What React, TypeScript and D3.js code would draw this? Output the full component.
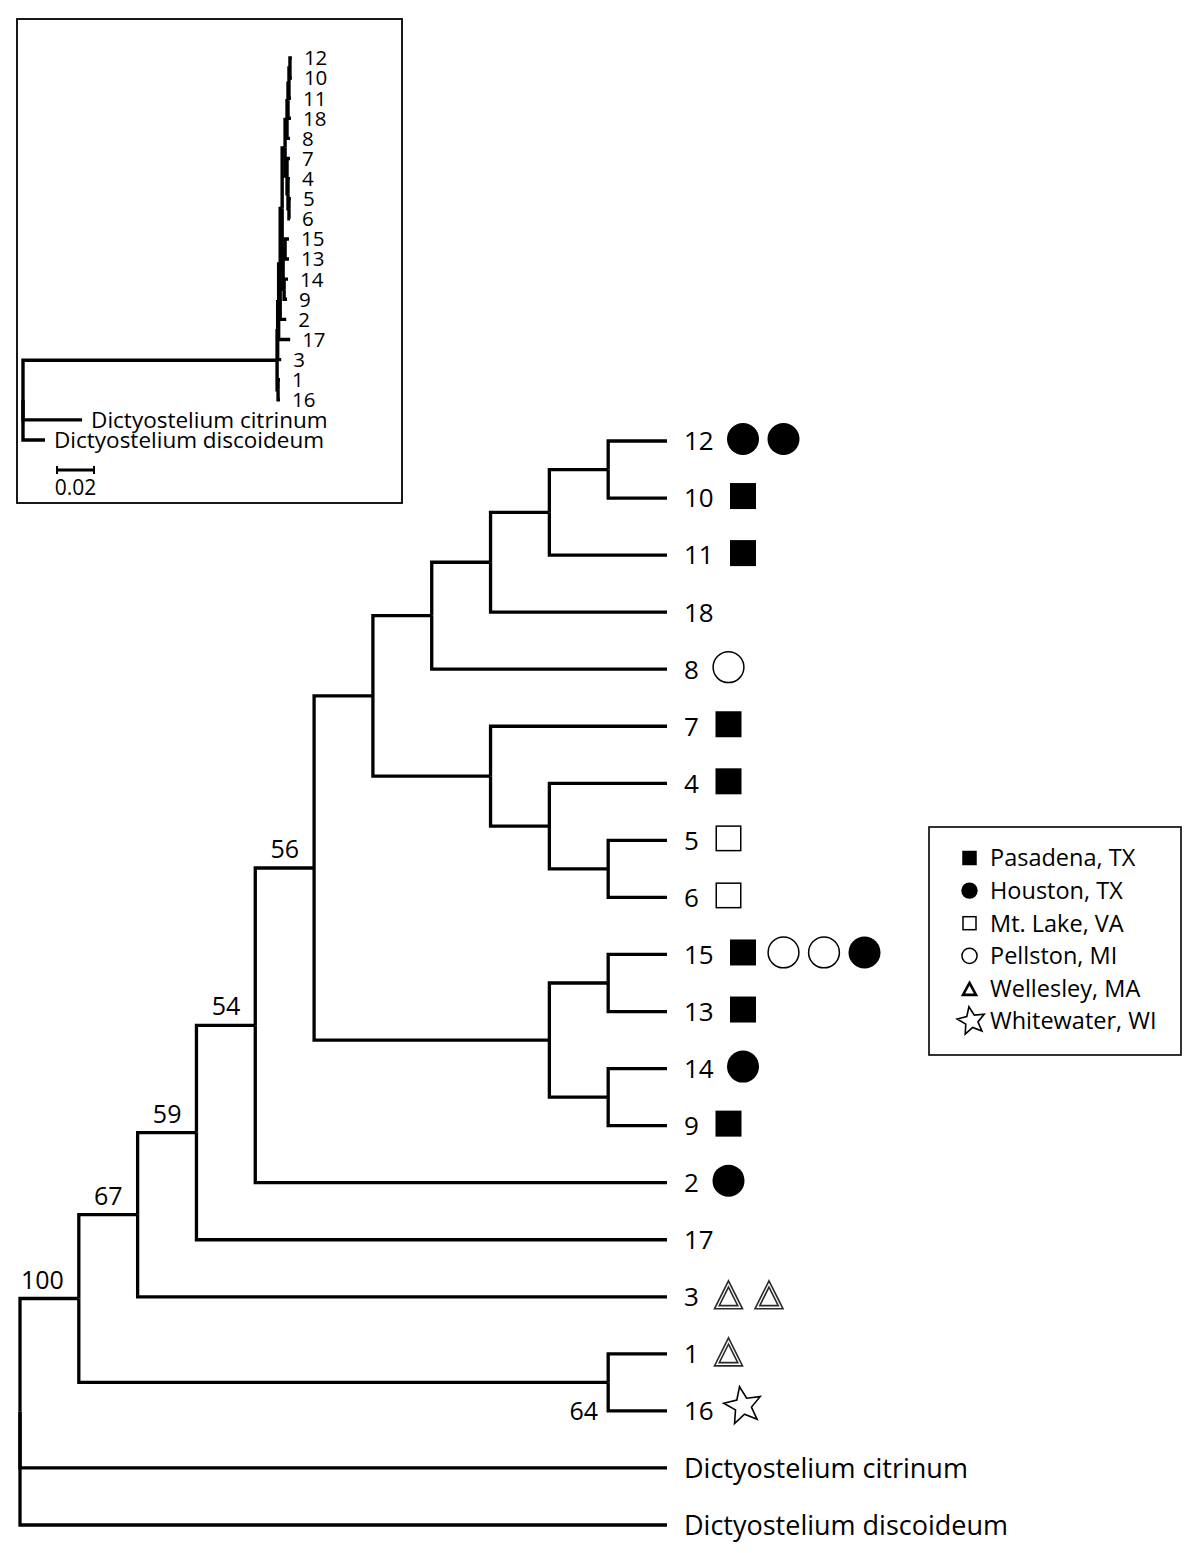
import React from "react";
import * as d3 from "d3";

// ---------- DATA ----------
const leafOrder = [
  "12", "10", "11", "18", "8", "7", "4", "5", "6", "15", "13", "14", "9", "2", "17", "3", "1", "16",
  "Dictyostelium citrinum", "Dictyostelium discoideum",
];

// [child, parent]
const links: [string, string][] = [
  ["root", ""],
  ["Q", "root"], ["Dictyostelium citrinum", "root"], ["Dictyostelium discoideum", "root"],
  ["O", "Q"], ["P", "Q"],
  ["N", "O"], ["3", "O"],
  ["M", "N"], ["17", "N"],
  ["L", "M"], ["2", "M"],
  ["H", "L"], ["K", "L"],
  ["D", "H"], ["G", "H"],
  ["C", "D"], ["8", "D"],
  ["B", "C"], ["18", "C"],
  ["A", "B"], ["11", "B"],
  ["12", "A"], ["10", "A"],
  ["7", "G"], ["F", "G"],
  ["4", "F"], ["E", "F"],
  ["5", "E"], ["6", "E"],
  ["I", "K"], ["J", "K"],
  ["15", "I"], ["13", "I"],
  ["14", "J"], ["9", "J"],
  ["1", "P"], ["16", "P"],
];

// bootstrap support values
const supports: [string, string][] = [
  ["Q", "100"], ["O", "67"], ["N", "59"], ["M", "54"], ["L", "56"], ["P", "64"],
];

// collection sites per isolate
const leafSites: [string, string[]][] = [
  ["12", ["Houston", "Houston"]],
  ["10", ["Pasadena"]],
  ["11", ["Pasadena"]],
  ["18", []],
  ["8", ["Pellston"]],
  ["7", ["Pasadena"]],
  ["4", ["Pasadena"]],
  ["5", ["MtLake"]],
  ["6", ["MtLake"]],
  ["15", ["Pasadena", "Pellston", "Pellston", "Houston"]],
  ["13", ["Pasadena"]],
  ["14", ["Houston"]],
  ["9", ["Pasadena"]],
  ["2", ["Houston"]],
  ["17", []],
  ["3", ["Wellesley", "Wellesley"]],
  ["1", ["Wellesley"]],
  ["16", ["Whitewater"]],
];

const legendKeys = ["Pasadena", "Houston", "MtLake", "Pellston", "Wellesley", "Whitewater"];
const legendLabels = ["Pasadena, TX", "Houston, TX", "Mt. Lake, VA", "Pellston, MI", "Wellesley, MA", "Whitewater, WI"];

// inset phylogram branch lengths (substitutions/site)
const insetLengths: [string, number][] = [
  ["Q", 0.1303], ["Dictyostelium citrinum", 0.0303], ["Dictyostelium discoideum", 0.0113],
  ["O", 0.0003], ["P", 0.0005], ["N", 0.0005], ["3", 0.0018], ["M", 0.0008], ["17", 0.0059],
  ["L", 0.001], ["2", 0.0031], ["H", 0.0015], ["K", 0.0005], ["D", 0.001], ["G", 0.001],
  ["C", 0.0005], ["8", 0.0015], ["B", 0.0005], ["18", 0.0015], ["A", 0.0005], ["11", 0.001],
  ["12", 0.001], ["10", 0.001], ["7", 0.0015], ["F", 0.0005], ["4", 0.001], ["E", 0.0005],
  ["5", 0.001], ["6", 0.0005], ["I", 0.001], ["J", 0.0005], ["15", 0.002], ["13", 0.002],
  ["14", 0.002], ["9", 0.0015], ["1", 0.001], ["16", 0.001],
];
const scaleBarValue = 0.02;

// ---------- HELPERS ----------
const FONT = "'Open Sans', 'Noto Sans', sans-serif";

function starPath(cx: number, cy: number, R: number, r: number, rot: number) {
  const pts: [number, number][] = [];
  for (let i = 0; i < 10; i++) {
    const a = rot + (i * Math.PI) / 5 - Math.PI / 2;
    const rad = i % 2 === 0 ? R : r;
    pts.push([cx + rad * Math.cos(a), cy + rad * Math.sin(a)]);
  }
  return "M" + pts.map((p) => p.join(",")).join("L") + "Z";
}

function triPath(cx: number, cy: number, w: number, h: number) {
  return `M${cx},${cy - h / 2}L${cx + w / 2},${cy + h / 2}L${cx - w / 2},${cy + h / 2}Z`;
}

function Symbol({ kind, x, y, big }: { kind: string; x: number; y: number; big: boolean }) {
  const s = big ? 26 : 14.5;
  const r = big ? 16 : 8.2;
  switch (kind) {
    case "Pasadena":
      return <rect x={x - s / 2} y={y - s / 2} width={s} height={s} fill="#000" />;
    case "Houston":
      return <circle cx={x} cy={y} r={r} fill="#000" />;
    case "MtLake":
      return <rect x={x - s / 2 + 0.75} y={y - s / 2 + 0.75} width={s - 1.5} height={s - 1.5} fill="#fff" stroke="#000" strokeWidth={1.5} />;
    case "Pellston":
      return <circle cx={x} cy={y} r={r - 0.6} fill="#fff" stroke="#000" strokeWidth={1.5} />;
    case "Wellesley":
      if (big) {
        const w = 28, h = 28;
        const cyc = y + h / 6;
        const k = 0.66;
        return (
          <g fill="none" stroke="#2a2a2a" strokeWidth={1.6} strokeLinejoin="miter">
            <path d={triPath(x, y, w, h)} />
            <path d={triPath(x, cyc + (y - cyc) * k, w * k, h * k)} />
          </g>
        );
      }
      return <path d={triPath(x, y + 0.5, 13, 12)} fill="none" stroke="#000" strokeWidth={2.6} />;
    case "Whitewater":
      return big ? (
        <path d={starPath(x, y, 19.5, 8.5, -0.18)} fill="#fff" stroke="#000" strokeWidth={1.6} strokeLinejoin="miter" />
      ) : (
        <path d={starPath(x, y, 14.5, 6.5, -0.18)} fill="#fff" stroke="#000" strokeWidth={1.6} strokeLinejoin="miter" />
      );
  }
  return null;
}

// ---------- APP ----------
export default function App() {
  const W = 1200, H = 1553;

  const root = d3
    .stratify<[string, string]>()
    .id((d) => d[0])
    .parentId((d) => (d[1] === "" ? null : d[1]))(links);

  // ----- main cladogram -----
  const xMain = d3.scaleLinear().domain([0, root.height]).range([20, 667]);
  const yMain = d3.scaleLinear().domain([0, leafOrder.length - 1]).range([441, 1525]);

  const pos = new Map<string, { x: number; y: number }>();
  root.eachAfter((n: any) => {
    const x = xMain(root.height - n.height);
    let y: number;
    if (!n.children) y = yMain(leafOrder.indexOf(n.id));
    else {
      const ys = n.children.map((c: any) => pos.get(c.id)!.y);
      y = (ys[0] + ys[ys.length - 1]) / 2;
    }
    pos.set(n.id, { x, y });
  });

  const mainPaths: string[] = [];
  root.each((n: any) => {
    if (!n.parent) return;
    const p = pos.get(n.parent.id)!;
    const c = pos.get(n.id)!;
    mainPaths.push(`M${p.x},${p.y}V${c.y}H${c.x}`);
  });

  // ----- inset phylogram -----
  const lenMap = new Map(insetLengths);
  const xIn = d3.scaleLinear().domain([0, scaleBarValue]).range([23, 62]);
  const yIn = d3.scaleLinear().domain([0, leafOrder.length - 1]).range([58, 440]);
  const dist = new Map<string, number>();
  root.eachBefore((n: any) => {
    dist.set(n.id, n.parent ? dist.get(n.parent.id)! + (lenMap.get(n.id) || 0) : 0);
  });
  const posIn = new Map<string, { x: number; y: number }>();
  root.eachAfter((n: any) => {
    const x = xIn(dist.get(n.id)!);
    let y: number;
    if (!n.children) y = yIn(leafOrder.indexOf(n.id));
    else {
      const ys = n.children.map((c: any) => posIn.get(c.id)!.y);
      y = (ys[0] + ys[ys.length - 1]) / 2;
    }
    posIn.set(n.id, { x, y });
  });
  const insetPaths: string[] = [];
  root.each((n: any) => {
    if (!n.parent) return;
    const p = posIn.get(n.parent.id)!;
    const c = posIn.get(n.id)!;
    insetPaths.push(`M${p.x},${p.y}V${c.y}H${c.x}`);
  });
  const leaves = root.leaves();

  const siteMap = new Map(leafSites);
  const supportMap = new Map(supports);

  const labelX = xMain(root.height) + 17;
  const barX0 = 56;
  const barLen = xIn(scaleBarValue) - xIn(0);

  const legendX = 929, legendY = 827, legendW = 252, legendH = 228;
  const legendRow = d3.scaleLinear().domain([0, legendKeys.length - 1]).range([858, 1021]);

  return (
    <svg width={W} height={H} style={{ position: "absolute", left: 0, top: 0, background: "#fff" }} fontFamily={FONT}>
      <rect x={0} y={0} width={W} height={H} fill="#fff" />

      {/* inset */}
      <rect x={17} y={19} width={385} height={484} fill="none" stroke="#000" strokeWidth={1.8} />
      <g fill="none" stroke="#000" strokeWidth={3.4} strokeLinejoin="miter">
        {insetPaths.map((d, i) => (
          <path key={i} d={d} />
        ))}
      </g>
      <g fill="#000">
        {leaves.map((n: any) => {
          const p = posIn.get(n.id)!;
          const isOut = n.id.startsWith("Dicty");
          return (
            <text key={n.id} x={p.x + (isOut ? 9 : 12)} y={p.y} dy="0.36em" fontSize={isOut ? 22.5 : 20.5}>
              {n.id}
            </text>
          );
        })}
      </g>
      <g stroke="#000">
        <line x1={barX0} x2={barX0 + barLen} y1={470} y2={470} strokeWidth={3} />
        <line x1={barX0 + 1} x2={barX0 + 1} y1={466} y2={474} strokeWidth={2} />
        <line x1={barX0 + barLen - 1} x2={barX0 + barLen - 1} y1={466} y2={474} strokeWidth={2} />
      </g>
      <text x={barX0 + barLen / 2} y={495} textAnchor="middle" fontSize={21}>
        {scaleBarValue}
      </text>

      {/* main tree */}
      <g fill="none" stroke="#000" strokeWidth={3.3} strokeLinejoin="miter">
        {mainPaths.map((d, i) => (
          <path key={i} d={d} />
        ))}
      </g>

      {/* support values */}
      <g fontSize={25} fill="#000">
        {Array.from(supportMap.entries()).map(([id, v]) => {
          const n = pos.get(id)!;
          if (id === "P") {
            const node: any = root.find((d: any) => d.id === id);
            const lastChild = pos.get(node.children[node.children.length - 1].id)!;
            return (
              <text key={id} x={n.x - 10} y={lastChild.y} dy="0.36em" textAnchor="end">
                {v}
              </text>
            );
          }
          return (
            <text key={id} x={n.x - 15} y={n.y - 10} textAnchor="end">
              {v}
            </text>
          );
        })}
      </g>

      {/* leaf labels + site symbols */}
      <g fill="#000">
        {leaves.map((n: any) => {
          const p = pos.get(n.id)!;
          const sites = siteMap.get(n.id) || [];
          const isOut = n.id.startsWith("Dicty");
          const x0 = labelX + n.id.length * 14.5 + 30;
          return (
            <g key={n.id}>
              <text x={labelX} y={p.y} dy="0.36em" fontSize={isOut ? 27 : 26}>
                {n.id}
              </text>
              {sites.map((s, i) => (
                <Symbol key={i} kind={s} x={x0 + i * 40.5} y={p.y - 2 + (s === "Whitewater" ? -3 : 0)} big={true} />
              ))}
            </g>
          );
        })}
      </g>

      {/* legend */}
      <rect x={legendX} y={legendY} width={legendW} height={legendH} fill="#fff" stroke="#000" strokeWidth={1.6} />
      {legendKeys.map((k, i) => (
        <g key={k}>
          <Symbol kind={k} x={969.5 + (k === "Whitewater" ? 2 : 0)} y={legendRow(i)} big={false} />
          <text x={990} y={legendRow(i)} dy="0.36em" fontSize={23.5}>
            {legendLabels[i]}
          </text>
        </g>
      ))}
    </svg>
  );
}
